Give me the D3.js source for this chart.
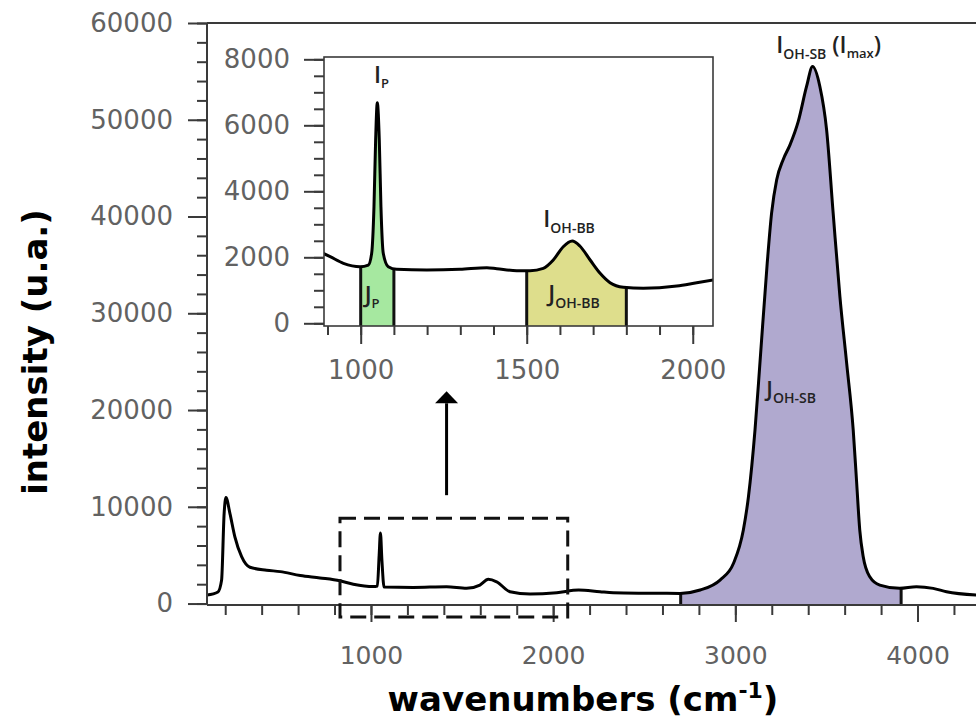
<!DOCTYPE html>
<html>
<head>
<meta charset="utf-8">
<script src="https://cdn.jsdelivr.net/npm/d3@7"></script>
<style>
  html, body { margin: 0; padding: 0; background: #fff; }
  svg { display: block; }
</style>
</head>
<body>
<div id="chart"></div>
<script>
// ---------------- DATA ----------------
// Main Raman spectrum (wavenumber cm-1, intensity u.a.)
const mainWave = [100, 160, 180, 194, 204, 226, 253, 290, 336, 427, 502, 612, 720, 830, 903, 1013, 1035, 1045, 1052, 1060, 1072, 1232, 1415, 1525, 1598, 1644, 1690, 1763, 1873, 2020, 2140, 2257, 2330, 2500, 2697, 2807, 2916, 2990, 3044, 3072, 3108, 3135, 3175, 3199, 3227, 3263, 3300, 3345, 3391, 3424, 3464, 3501, 3537, 3574, 3611, 3647, 3665, 3683, 3702, 3738, 3793, 3902, 3994, 4086, 4159, 4324];
const mainIntensity = [880, 1200, 2400, 9300, 10950, 9300, 6900, 4850, 3750, 3450, 3300, 2900, 2650, 2350, 2000, 1750, 1800, 5000, 7300, 4500, 1700, 1670, 1740, 1570, 1910, 2500, 2250, 1220, 980, 1120, 1400, 1220, 1120, 1070, 1050, 1400, 2430, 4160, 7600, 11040, 17940, 24840, 35180, 40350, 43800, 45900, 47400, 49800, 53440, 55500, 53440, 48960, 40350, 31730, 24840, 17940, 12770, 7600, 4840, 2770, 1910, 1570, 1740, 1570, 1220, 880];

// Inset (zoom of 890-2060 cm-1)
const insetWave = [887, 908, 948, 998, 1023, 1033, 1040, 1045, 1050, 1056, 1061, 1068, 1083, 1108, 1199, 1299, 1380, 1410, 1470, 1510, 1550, 1580, 1610, 1637, 1660, 1691, 1721, 1751, 1791, 1851, 1952, 2012, 2062];
const insetIntensity = [2120, 2020, 1818, 1715, 1766, 2120, 3533, 5554, 6685, 5554, 3533, 2120, 1715, 1636, 1615, 1636, 1685, 1654, 1594, 1594, 1666, 1918, 2321, 2494, 2342, 1918, 1515, 1230, 1091, 1060, 1130, 1230, 1312];

// Integration bands
const bandNames = ["P", "OH-BB", "OH-SB"];
const bandStart = [1000, 1500, 2700];
const bandEnd   = [1100, 1800, 3910];
const bandColors = ["#a6e8a0", "#dede8c", "#b0a9cf"];

// Tick values
const mainXMajor = [1000, 2000, 3000, 4000];
const mainXMinor = d3.range(200, 4400, 200);
const mainYMajor = [0, 10000, 20000, 30000, 40000, 50000, 60000];
const mainYMinor = d3.range(0, 60001, 2000);
const insetXMajor = [1000, 1500, 2000];
const insetXMinor = d3.range(900, 2061, 100);
const insetYMajor = [0, 2000, 4000, 6000, 8000];
const insetYMinor = d3.range(0, 8001, 500);

// ---------------- CHART ----------------
const W = 976, H = 720;
const svg = d3.select("#chart").append("svg").attr("width", W).attr("height", H)
  .style("font-family", "'DejaVu Sans', Verdana, sans-serif");
svg.append("rect").attr("width", W).attr("height", H).attr("fill", "#fff");

const x = d3.scaleLinear().domain([100, 4321]).range([207, 976]);
const y = d3.scaleLinear().domain([-150, 60000]).range([605, 23]);

const defs = svg.append("defs");
const mainData = mainWave.map((w, i) => ({w, v: mainIntensity[i]}));
const insetData = insetWave.map((w, i) => ({w, v: insetIntensity[i]}));

const mainLine = d3.line().x(d => x(d.w)).y(d => y(d.v)).curve(d3.curveMonotoneX);
const mainArea = d3.area().x(d => x(d.w)).y0(y.range()[0]).y1(d => y(d.v)).curve(d3.curveMonotoneX);

defs.append("clipPath").attr("id", "under-main").append("path").attr("d", mainArea(mainData));

// Purple band (OH stretching)
const gBandMain = svg.append("g").attr("clip-path", "url(#under-main)");
gBandMain.append("rect")
  .attr("x", x(bandStart[2])).attr("width", x(bandEnd[2]) - x(bandStart[2]))
  .attr("y", 0).attr("height", H).attr("fill", bandColors[2]);
[bandStart[2], bandEnd[2]].forEach(b => {
  gBandMain.append("line").attr("x1", x(b)).attr("x2", x(b)).attr("y1", 0).attr("y2", H)
    .attr("stroke", "#111").attr("stroke-width", 3);
});

// Main spectrum line
svg.append("path").datum(mainData).attr("d", mainLine)
  .attr("fill", "none").attr("stroke", "#000").attr("stroke-width", 3).attr("stroke-linejoin", "round");

// Main axes
const tickColor = "#3a3a3a", labelColor = "#626262";
function styleAxis(g, fs) {
  g.select(".domain").remove();
  g.selectAll(".tick line").attr("stroke", tickColor).attr("stroke-width", 2);
  g.selectAll(".tick text").attr("fill", labelColor).style("font-size", fs + "px")
    .style("font-family", "'DejaVu Sans', Verdana, sans-serif");
}
svg.append("g").attr("transform", "translate(0,605)")
  .call(d3.axisBottom(x).tickValues(mainXMinor).tickSize(10).tickFormat(""))
  .call(g => styleAxis(g, 25));
svg.append("g").attr("transform", "translate(0,605)")
  .call(d3.axisBottom(x).tickValues(mainXMajor).tickSize(17).tickPadding(24).tickFormat(d3.format("d")))
  .call(g => styleAxis(g, 25));
svg.append("g").attr("transform", "translate(207,0)")
  .call(d3.axisLeft(y).tickValues(mainYMinor).tickSize(10).tickFormat(""))
  .call(g => styleAxis(g, 26));
svg.append("g").attr("transform", "translate(207,0)")
  .call(d3.axisLeft(y).tickValues(mainYMajor).tickSize(19).tickPadding(15).tickFormat(d3.format("d")))
  .call(g => styleAxis(g, 26));

// Spines
svg.append("line").attr("x1", 207).attr("x2", W).attr("y1", 605).attr("y2", 605).attr("stroke", tickColor).attr("stroke-width", 2);
svg.append("line").attr("x1", 207).attr("x2", 207).attr("y1", 23).attr("y2", 605).attr("stroke", tickColor).attr("stroke-width", 2);
svg.append("line").attr("x1", 207).attr("x2", W).attr("y1", 23).attr("y2", 23).attr("stroke", tickColor).attr("stroke-width", 2);

// Dashed zoom box
svg.append("rect")
  .attr("x", x(830)).attr("y", y(8810))
  .attr("width", x(2080) - x(830)).attr("height", y(-1400) - y(8810))
  .attr("fill", "none").attr("stroke", "#111").attr("stroke-width", 3).attr("stroke-dasharray", "16 8");

// Arrow
const ax = x(1415);
svg.append("line").attr("x1", ax).attr("x2", ax).attr("y1", y(11200)).attr("y2", y(20700))
  .attr("stroke", "#000").attr("stroke-width", 3);
svg.append("path")
  .attr("d", `M${ax},${y(21950)} L${ax - 11.5},${y(20700)} L${ax + 11.5},${y(20700)} Z`)
  .attr("fill", "#000");

// ---------------- INSET ----------------
const ix = d3.scaleLinear().domain([889.5, 2061]).range([324, 713]);
const iy = d3.scaleLinear().domain([-82, 8070]).range([326, 57]);
const ins = svg.append("g");
ins.append("rect").attr("x", 324).attr("y", 57).attr("width", 389).attr("height", 269).attr("fill", "#fff");

defs.append("clipPath").attr("id", "inset-frame").append("rect")
  .attr("x", 324).attr("y", 57).attr("width", 389).attr("height", 269);
const insetArea = d3.area().x(d => ix(d.w)).y0(326).y1(d => iy(d.v)).curve(d3.curveMonotoneX);
const insetLine = d3.line().x(d => ix(d.w)).y(d => iy(d.v)).curve(d3.curveMonotoneX);
defs.append("clipPath").attr("id", "under-inset").append("path").attr("d", insetArea(insetData));

const gIn = ins.append("g").attr("clip-path", "url(#inset-frame)");
const gInBands = gIn.append("g").attr("clip-path", "url(#under-inset)");
[0, 1].forEach(k => {
  gInBands.append("rect")
    .attr("x", ix(bandStart[k])).attr("width", ix(bandEnd[k]) - ix(bandStart[k]))
    .attr("y", 0).attr("height", H).attr("fill", bandColors[k]);
  [bandStart[k], bandEnd[k]].forEach(b => {
    gInBands.append("line").attr("x1", ix(b)).attr("x2", ix(b)).attr("y1", 0).attr("y2", H)
      .attr("stroke", "#111").attr("stroke-width", 3);
  });
});
gIn.append("path").datum(insetData).attr("d", insetLine)
  .attr("fill", "none").attr("stroke", "#000").attr("stroke-width", 3).attr("stroke-linejoin", "round");

ins.append("rect").attr("x", 324).attr("y", 57).attr("width", 389).attr("height", 269)
  .attr("fill", "none").attr("stroke", tickColor).attr("stroke-width", 1.6);

ins.append("g").attr("transform", "translate(0,326)")
  .call(d3.axisBottom(ix).tickValues(insetXMinor).tickSize(9).tickFormat(""))
  .call(g => styleAxis(g, 26));
ins.append("g").attr("transform", "translate(0,326)")
  .call(d3.axisBottom(ix).tickValues(insetXMajor).tickSize(18).tickPadding(17).tickFormat(d3.format("d")))
  .call(g => styleAxis(g, 26));
ins.append("g").attr("transform", "translate(324,0)")
  .call(d3.axisLeft(iy).tickValues(insetYMinor).tickSize(10).tickFormat(""))
  .call(g => styleAxis(g, 26));
ins.append("g").attr("transform", "translate(324,0)")
  .call(d3.axisLeft(iy).tickValues(insetYMajor).tickSize(20).tickPadding(14).tickFormat(d3.format("d")))
  .call(g => styleAxis(g, 26));

// ---------------- ANNOTATIONS ----------------
function label(px, py, main, sub, big, small, extra) {
  const t = svg.append("text").attr("x", px).attr("y", py)
    .style("font-family", "'Open Sans', Lato, sans-serif").attr("fill", "#222").style("font-weight", 600);
  t.append("tspan").style("font-size", big + "px").text(main);
  t.append("tspan").attr("dy", small * 0.4).style("font-size", small + "px").text(sub);
  if (extra) extra(t, small);
  return t;
}
label(ix(1040), 83, "I", "P", 23, 13);
label(ix(1550), 227, "I", "OH-BB", 23, 14);
label(ix(1012), 303, "J", "P", 23, 13);
label(ix(1565), 302, "J", "OH-BB", 23, 14);
label(x(3170), 397, "J", "OH-SB", 22, 14);
label(x(3225), 53, "I", "OH-SB", 23, 14, (t, s) => {
  t.append("tspan").attr("dy", -s * 0.4).style("font-size", "23px").text(" (I");
  t.append("tspan").attr("dy", s * 0.35).style("font-size", "13px").text("max");
  t.append("tspan").attr("dy", -s * 0.35).style("font-size", "23px").text(")");
});

// ---------------- AXIS TITLES ----------------
svg.append("text")
  .attr("transform", "translate(47,352) rotate(-90)")
  .attr("text-anchor", "middle")
  .style("font-family", "'DejaVu Sans', Verdana, sans-serif").style("font-weight", "bold").style("font-size", "34px")
  .attr("fill", "#000")
  .text("intensity (u.a.)");

const xt = svg.append("text")
  .attr("x", 583).attr("y", 711).attr("text-anchor", "middle")
  .style("font-family", "'DejaVu Sans', Verdana, sans-serif").style("font-weight", "bold").style("font-size", "34px")
  .attr("fill", "#000");
xt.append("tspan").text("wavenumbers (cm");
xt.append("tspan").attr("dy", -13).style("font-size", "22px").text("-1");
xt.append("tspan").attr("dy", 13).text(")");
</script>
</body>
</html>
